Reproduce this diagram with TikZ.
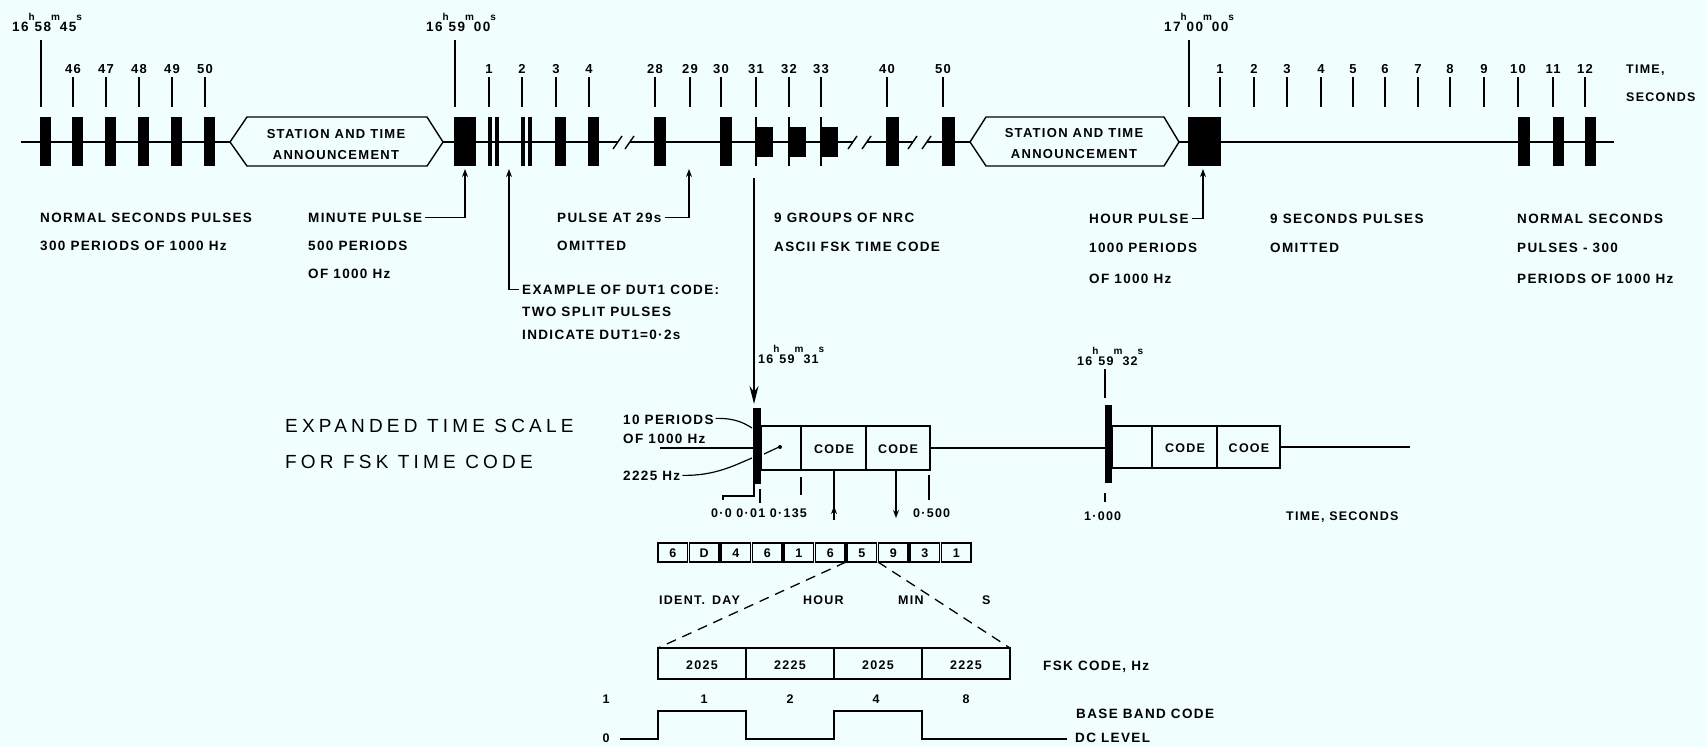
\documentclass[tikz,border=0pt]{standalone}
\usepackage{fontspec}
\setmainfont{Liberation Sans}
\newfontfamily\labff[LetterSpace=10]{Liberation Sans Bold}
\newfontfamily\bigff[LetterSpace=22]{Liberation Sans}
\usetikzlibrary{arrows.meta}
\definecolor{bg}{RGB}{240,254,254}
\newcommand\hmsx[3]{#1\raisebox{11pt}{\fontsize{10}{10}\selectfont h}#2\raisebox{11pt}{\fontsize{10}{10}\selectfont m}#3\raisebox{11pt}{\fontsize{10}{10}\selectfont s}}
\begin{document}
\begin{tikzpicture}[x=1pt,y=-1pt,
  lab/.style={font=\labff\fontsize{13.5}{16}\selectfont, inner sep=0pt, anchor=base west},
  secn/.style={font=\labff\fontsize{13}{15}\selectfont, inner sep=0pt, anchor=base},
  tml/.style={font=\labff\fontsize{12.5}{14}\selectfont, inner sep=0pt, anchor=base west},
  hms/.style={font=\labff\fontsize{13.5}{14}\selectfont, inner sep=0pt, anchor=base west},
  bigt/.style={font=\bigff\fontsize{19}{22}\selectfont, inner sep=0pt, anchor=base west},
  cell/.style={font=\labff\fontsize{12.5}{14}\selectfont, inner sep=0pt, anchor=base},
  ln/.style={line width=1.4pt},
  tk/.style={line width=1.6pt},
  arr/.style={line width=1.4pt,-{Stealth[length=8pt,width=6pt]}},
  pulse/.style={fill=black}]
\fill[bg] (0,0) rectangle (1707,747);
\useasboundingbox (0,0) rectangle (1707,747);

% ---------------- main time line ----------------
\draw[ln] (21,142) -- (230,142);
\draw[ln] (230,142) -- (247,117) -- (427,117) -- (443,142) -- (427,166) -- (247,166) -- cycle;
\node[font=\labff\fontsize{13}{15}\selectfont, inner sep=0pt, anchor=base] (ann1a) at (336,138) {STATION AND TIME};
\node[font=\labff\fontsize{13}{15}\selectfont, inner sep=0pt, anchor=base] (ann1b) at (336,159) {ANNOUNCEMENT};
\draw[ln] (443,142) -- (618,142);
\draw[ln] (613,149) -- (622,136);
\draw[ln] (625,149) -- (634,136);
\draw[ln] (630,142) -- (853,142);
\draw[ln] (848,149) -- (857,136);
\draw[ln] (862,149) -- (871,136);
\draw[ln] (867,142) -- (913,142);
\draw[ln] (908,149) -- (917,136);
\draw[ln] (922,149) -- (931,136);
\draw[ln] (927,142) -- (970,142);
\draw[ln] (970,142) -- (986,117) -- (1164,117) -- (1179,142) -- (1164,166) -- (986,166) -- cycle;
\node[font=\labff\fontsize{13}{15}\selectfont, inner sep=0pt, anchor=base] (ann2a) at (1074,137) {STATION AND TIME};
\node[font=\labff\fontsize{13}{15}\selectfont, inner sep=0pt, anchor=base] (ann2b) at (1074,158) {ANNOUNCEMENT};
\draw[ln] (1179,142) -- (1614,142);

% pulses
\foreach \a/\b in {40/51,72/83,105/116,138/149,171/182,204/215,
  454/476,488/492,495/499,521/525,528/532,555/566,588/599,654/666,720/732,
  886/899,942/955,1188/1221,1518/1530,1553/1564,1585/1596}
  \fill[pulse] (\a,117) rectangle (\b,166);
\foreach \a in {755,788,820}{
  \fill[pulse] (\a,117) rectangle (\a+2,166);
  \fill[pulse] (\a,127) rectangle (\a+18,157);}

% ticks
\foreach \x in {41,455,1189} \draw[tk] (\x,40) -- (\x,107);
\foreach \x/\t in {73/46,106/47,139/48,172/49,205/50,489/1,522/2,556/3,589/4,
  655/28,690/29,721/30,756/31,789/32,821/33,887/40,943/50,
  1220/1,1254/2,1287/3,1321/4,1353/5,1385/6,1418/7,1450/8,1484/9,1518/10,1553/11,1585/12}{
  \draw[tk] (\x,77) -- (\x,107);
  \node[secn] at (\x,73) {\t};}

\node[hms] (t1) at (12,31) {\hmsx{16}{58}{45}};
\node[hms] (t2) at (426,31) {\hmsx{16}{59}{00}};
\node[hms] (t3) at (1164,31) {\hmsx{17}{00}{00}};
\node[lab,font=\labff\fontsize{12.5}{14}\selectfont] (timelab) at (1626,73) {TIME,};
\node[lab,font=\labff\fontsize{12.5}{14}\selectfont] (seclab) at (1626,101) {SECONDS};

% ---------------- annotations ----------------
\node[lab] (nsp1) at (40,222) {NORMAL SECONDS PULSES};
\node[lab] (nsp2) at (40,250) {300 PERIODS OF 1000 Hz};
\node[lab] (mp1) at (308,222) {MINUTE PULSE};
\node[lab] (mp2) at (308,250) {500 PERIODS};
\node[lab] (mp3) at (308,278) {OF 1000 Hz};
\coordinate (mparr) at (465,169);
\draw[arr] (mp1.east) ++(3,0) -| (mparr);

\node[lab] (du1) at (522,294) {EXAMPLE OF DUT1 CODE:};
\node[lab] (du2) at (522,316) {TWO SPLIT PULSES};
\node[lab] (du3) at (522,339) {INDICATE DUT1=0·2s};
\coordinate (duarr) at (509,169);
\draw[arr] (du1.west) ++(-3,0) -| (duarr);

\node[lab] (p291) at (557,222) {PULSE AT 29s};
\node[lab] (p292) at (557,250) {OMITTED};
\coordinate (p29arr) at (689,169);
\draw[arr] (p291.east) ++(3,0) -| (p29arr);

\node[lab] (ng1) at (774,222) {9 GROUPS OF NRC};
\node[lab] (ng2) at (774,251) {ASCII FSK TIME CODE};

\node[lab] (hp1) at (1089,223) {HOUR PULSE};
\node[lab] (hp2) at (1089,252) {1000 PERIODS};
\node[lab] (hp3) at (1089,283) {OF 1000 Hz};
\coordinate (hparr) at (1203,169);
\draw[arr] (hp1.east) ++(3,0) -| (hparr);

\node[lab] (so1) at (1270,223) {9 SECONDS PULSES};
\node[lab] (so2) at (1270,252) {OMITTED};

\node[lab] (ns1) at (1517,223) {NORMAL SECONDS};
\node[lab] (ns2) at (1517,252) {PULSES {-} 300};
\node[lab] (ns3) at (1517,283) {PERIODS OF 1000 Hz};

% ---------------- expanded time scale ----------------
\node[bigt] (ex1) at (285,432) {EXPANDED TIME SCALE};
\node[bigt] (ex2) at (285,468) {FOR FSK TIME CODE};

\coordinate (bigtop) at (754,178);
\coordinate (bar1top) at (754,404);
\draw[line width=1.6pt,-{Stealth[length=18pt,width=9pt]}] (bigtop) -- (bar1top);
\node[tml] (t31) at (758,363) {\hmsx{16}{59}{31}};

\draw[ln] (660,448) -- (754,448);
\fill (753,408) rectangle (761,484);
\draw[ln] (761,426) rectangle (930,470);
\draw[ln] (801,426) -- (801,470);
\draw[ln] (866,426) -- (866,470);
\node[cell] (c1) at (834,453) {CODE};
\node[cell] (c2) at (898,453) {CODE};
\draw[ln] (930,448) -- (1105,448);

\node[lab] (tp1) at (623,424) {10 PERIODS};
\node[lab] (tp2) at (623,443) {OF 1000 Hz};
\node[lab] (tp3) at (623,480) {2225 Hz};
\draw[line width=1.2pt] (tp1.east) ++(2,-1) .. controls (735,418) and (744,423) .. (752,428);
\draw[line width=1.2pt] (tp3.east) ++(2,0) .. controls (715,476) and (735,465) .. (752,458);
\draw[line width=1.2pt] (764,454) -- (779,447);
\fill (780,447) circle (2);

\draw[line width=1.2pt] (723,500) -- (723,496) -- (754,496) -- (754,484);
\draw[line width=1.2pt] (760,489) -- (760,503);
\draw[line width=1.2pt] (801,477) -- (801,495);
\draw[line width=1.2pt] (929,475) -- (929,500);
\node[tml] (l00) at (711,517) {0·0 0·01 0·135};
\node[tml] (l500) at (913,517) {0·500};
\coordinate (a1t) at (834,470);
\coordinate (a1m) at (834,506);
\coordinate (a1b) at (834,520);
\coordinate (a2t) at (896,470);
\coordinate (a2b) at (896,518);
\draw[line width=1.4pt] (a1t) -- (a1b);
\draw[line width=1.4pt,-{Stealth[length=8pt,width=6pt]}] (a1b) -- (a1m);
\draw[line width=1.4pt,-{Stealth[length=8pt,width=6pt]}] (a2t) -- (a2b);

% second
\node[tml] (t32) at (1077,365) {\hmsx{16}{59}{32}};
\draw[tk] (1105,369) -- (1105,398);
\fill (1105,405) rectangle (1112,483);
\draw[ln] (1112,426) rectangle (1280,468);
\draw[ln] (1152,426) -- (1152,468);
\draw[ln] (1217,426) -- (1217,468);
\node[cell] (c3) at (1185,452) {CODE};
\node[cell] (c4) at (1249,452) {COOE};
\draw[ln] (1280,447) -- (1410,447);
\draw[line width=1.2pt] (1105,493) -- (1105,502);
\node[tml] (l1000) at (1084,520) {1·000};
\node[tml] (tsec) at (1286,520) {TIME, SECONDS};

% ---------------- digit boxes ----------------
\foreach \d [count=\i from 0] in {6,D,4,6,1,6,5,9,3,1}{
  \draw[ln] (657+\i*31.5+1,543) rectangle (657+\i*31.5+30.5,562);
  \node[cell] at (657+\i*31.5+15.75,557.5) {\d};}
\coordinate (d5l) at (846,562);
\coordinate (d5r) at (878,562);
\node[lab,font=\labff\fontsize{12.5}{14}\selectfont] (id) at (659,604) {IDENT.};
\node[lab,font=\labff\fontsize{12.5}{14}\selectfont] (day) at (712,604) {DAY};
\node[lab,font=\labff\fontsize{12.5}{14}\selectfont] (hour) at (803,604) {HOUR};
\node[lab,font=\labff\fontsize{12.5}{14}\selectfont] (min) at (898,604) {MIN};
\node[lab,font=\labff\fontsize{12.5}{14}\selectfont] (ss) at (982,604) {S};

% FSK boxes
\draw[ln] (658,648) rectangle (1010,679);
\foreach \x in {746,834,922} \draw[ln] (\x,648) -- (\x,679);
\coordinate (fl) at (658,648);
\coordinate (fr) at (1010,648);
\draw[line width=1.3pt,dash pattern=on 10pt off 7pt] (d5l) -- (fl);
\draw[line width=1.3pt,dash pattern=on 10pt off 7pt] (d5r) -- (fr);
\node[cell] at (702,669) {2025};
\node[cell] at (790,669) {2225};
\node[cell] at (878,669) {2025};
\node[cell] at (966,669) {2225};
\node[lab] (fsk) at (1043,670) {FSK CODE, Hz};

% base band
\node[cell] at (606,703) {1};
\node[cell] at (606,742) {0};
\node[cell] at (704,703) {1};
\node[cell] at (790,703) {2};
\node[cell] at (876,703) {4};
\node[cell] at (966,703) {8};
\draw[ln] (620,739) -- (658,739) -- (658,711) -- (746,711) -- (746,739) -- (834,739) -- (834,711) -- (922,711) -- (922,739) -- (1067,739);
\node[lab] (bb) at (1076,718) {BASE BAND CODE};
\node[lab] (dc) at (1075,742) {DC LEVEL};
\end{tikzpicture}
\end{document}
